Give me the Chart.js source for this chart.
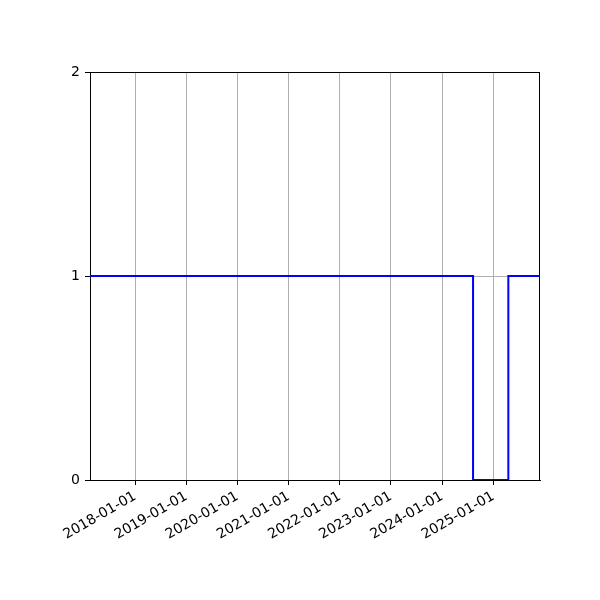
<!DOCTYPE html>
<html>
<head>
<meta charset="utf-8">
<script src="https://cdn.jsdelivr.net/npm/chart.js@4"></script>
<style>
  body { margin: 0; background: #fff; }
  canvas { display: block; }
</style>
</head>
<body>
<canvas id="chart" width="600" height="600"></canvas>
<script>
// step series: value holds from each date until the next one
var stepDates = ['2017-02-12', '2024-08-09', '2025-04-18', '2025-11-30'];
var stepValues = [1, 0, 1, 1];
var xTickDates = ['2018-01-01', '2019-01-01', '2020-01-01', '2021-01-01',
                  '2022-01-01', '2023-01-01', '2024-01-01', '2025-01-01'];
var yTickValues = [0, 1, 2];

function toTime(s) {
    var p = s.split('-');
    return Date.UTC(+p[0], +p[1] - 1, +p[2]);
}

function fmtDate(t) {
    var d = new Date(t);
    var pad = function(n) { return (n < 10 ? '0' : '') + n; };
    return d.getUTCFullYear() + '-' + pad(d.getUTCMonth() + 1) + '-' + pad(d.getUTCDate());
}

var points = stepDates.map(function(d, i) {
    return {x: toTime(d), y: stepValues[i]};
});

// box around the plot area, drawn under the line
var framePlugin = {
    id: 'frame',
    beforeDatasetsDraw: function(chart) {
        var a = chart.chartArea;
        var ctx = chart.ctx;
        ctx.save();
        ctx.strokeStyle = '#000';
        ctx.lineWidth = 1;
        ctx.strokeRect(a.left + 0.5, a.top + 0.5, a.right - a.left - 1, a.bottom - a.top);
        ctx.restore();
    }
};

var font = {family: 'DejaVu Sans', size: 14};

new Chart(document.getElementById('chart'), {
    type: 'line',
    data: {
        datasets: [{
            data: points,
            borderColor: '#0000ff',
            borderWidth: 2,
            pointRadius: 0,
            fill: false,
            stepped: 'before'
        }]
    },
    options: {
        responsive: false,
        animation: false,
        layout: {padding: {left: 0, top: 72, right: 60, bottom: 0}},
        plugins: {legend: {display: false}, tooltip: {enabled: false}},
        scales: {
            x: {
                type: 'linear',
                min: toTime(stepDates[0]),
                max: toTime(stepDates[stepDates.length - 1]),
                afterBuildTicks: function(scale) {
                    scale.ticks = xTickDates.map(function(d) { return {value: toTime(d)}; });
                },
                afterFit: function(scale) { scale.height = 120; },
                ticks: {
                    color: '#000',
                    font: font,
                    minRotation: 30,
                    maxRotation: 30,
                    padding: 3,
                    callback: function(v) { return fmtDate(v); }
                },
                grid: {color: '#b0b0b0', lineWidth: 1, tickColor: '#000', tickLength: 5},
                border: {color: '#000', width: 1}
            },
            y: {
                min: 0,
                max: 2,
                afterBuildTicks: function(scale) {
                    scale.ticks = yTickValues.map(function(v) { return {value: v}; });
                },
                afterFit: function(scale) { scale.width = 90; },
                ticks: {color: '#000', font: font, padding: 5},
                grid: {color: '#b0b0b0', lineWidth: 1, tickColor: '#000', tickLength: 5},
                border: {color: '#000', width: 1}
            }
        }
    },
    plugins: [framePlugin]
});
</script>
</body>
</html>
